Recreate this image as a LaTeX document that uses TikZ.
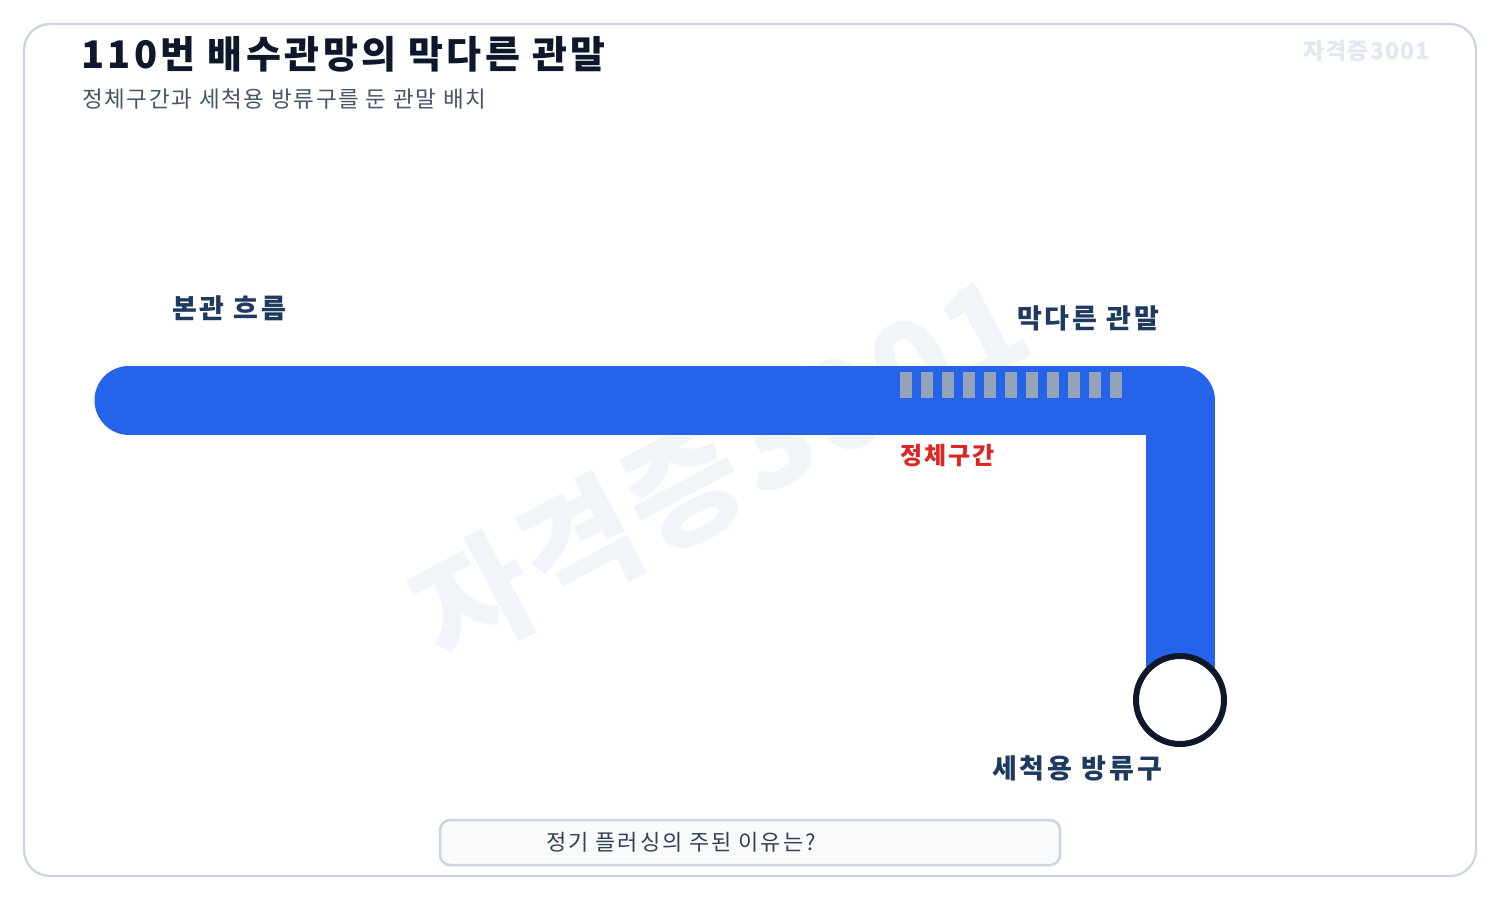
\documentclass[tikz,border=0pt]{standalone}
\usepackage{fontspec}
\setmainfont{Noto Sans CJK KR}
\newfontfamily\kr{Noto Sans CJK KR}
\newcommand{\krls}[2]{\kr\fontsize{#1}{#1}\selectfont\addfontfeature{LetterSpace=#2}}
\definecolor{frame}{HTML}{CBD5E1}
\definecolor{ink}{HTML}{0F172A}
\definecolor{sub}{HTML}{475569}
\definecolor{navy}{HTML}{1E3A5F}
\definecolor{pipe}{HTML}{2563EB}
\definecolor{stag}{HTML}{94A3B8}
\definecolor{alert}{HTML}{DC2626}
\definecolor{wm}{HTML}{F1F5F9}
\definecolor{wmsmall}{HTML}{E2E8F0}
\definecolor{boxfill}{HTML}{F8FAFC}
\definecolor{qtext}{HTML}{334155}
\begin{document}
\begin{tikzpicture}[x=1pt,y=-1pt,
  lbl/.style={font=\bfseries\krls{27}{11},text=navy,inner sep=0pt,anchor=base west}]
\useasboundingbox (0,0) rectangle (1500,900);
\fill[white] (0,0) rectangle (1500,900);
\draw[frame,line width=2.2pt,rounded corners=26pt] (24,24) rectangle (1476,876);
% big watermark
\node[rotate=28,text=wm,font=\bfseries\krls{125}{3},inner sep=0pt] (wmbig) at (720,468) {자격증3001};
% titles
\node[anchor=base west,inner sep=0pt,text=ink,font=\bfseries\krls{38}{9}] (title) at (81,68) {110번 배수관망의 막다른 관말};
\node[anchor=base west,inner sep=0pt,text=sub,font=\krls{22.5}{7.5}] (subtitle) at (82,107) {정체구간과 세척용 방류구를 둔 관말 배치};
\node[anchor=base west,inner sep=0pt,text=wmsmall,font=\bfseries\krls{23}{5}] (wmsmall) at (1303,59) {자격증3001};
% pipe
\coordinate (pstart) at (129,400);
\coordinate (pcorner) at (1180,400);
\coordinate (pend) at (1180,700);
\draw[pipe,line width=69pt,line cap=round,line join=round] (pstart) -- (pcorner) -- (pend);
\fill[pipe] (1145,400) rectangle (1215,434);
% stagnant bars
\foreach \i in {0,...,10}{
  \fill[stag] ({900+21*\i},372) rectangle ++(12,26);
}
% outlet
\node[circle,draw=ink,fill=white,line width=6pt,minimum size=88pt,inner sep=0pt] (outlet) at (pend) {};
% labels
\node[lbl] (main) at (172,318) {본관 흐름};
\node[lbl] (dead) at (1017,328) {막다른 관말};
\node[lbl,text=alert,font=\bfseries\krls{24}{8}] (stagl) at (900,464) {정체구간};
\node[lbl] (outl) at (992,778) {세척용 방류구};
% question box
\draw[frame,fill=boxfill,line width=2.5pt,rounded corners=10pt] (440,820) rectangle (1060,865);
\node[anchor=base west,inner sep=0pt,text=qtext,font=\krls{22}{9}] (q) at (546,850) {정기 플러싱의 주된 이유는?};
\end{tikzpicture}
\end{document}
